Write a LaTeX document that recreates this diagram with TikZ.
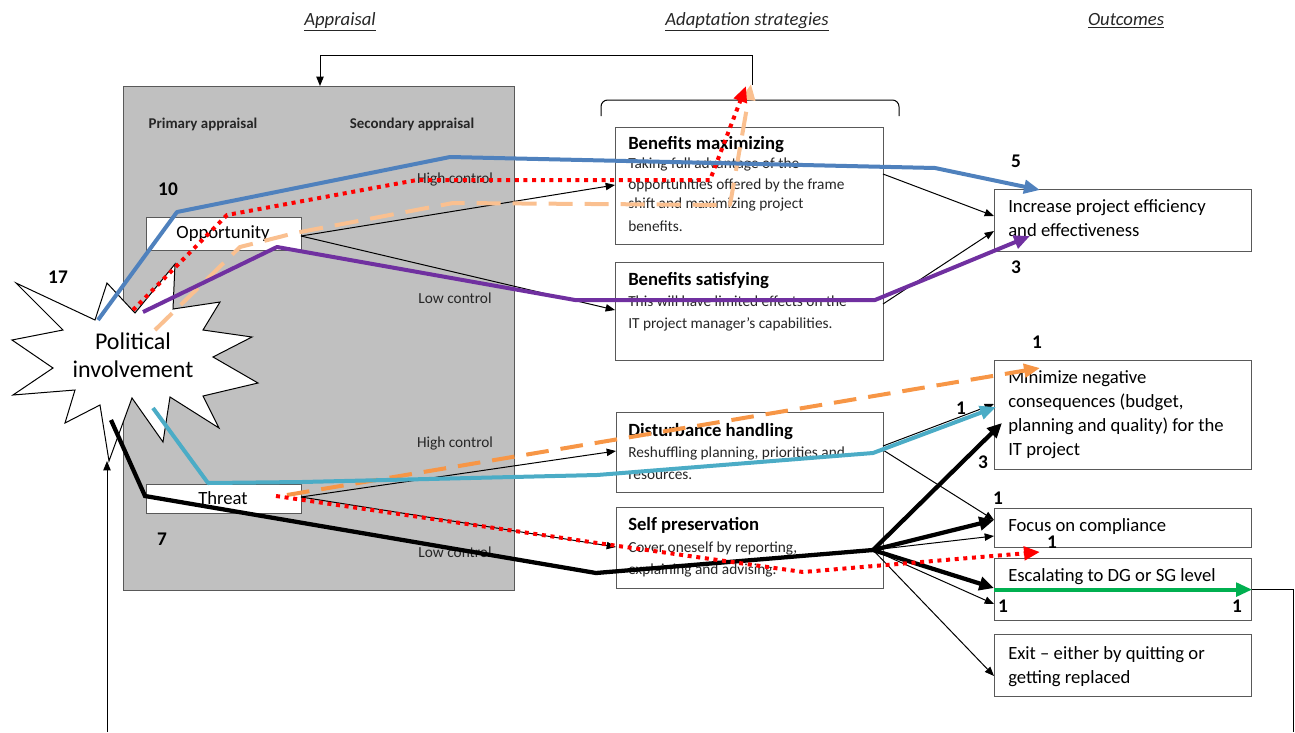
\documentclass[tikz,border=0pt]{standalone}
\usepackage{fontspec}
\setmainfont{Carlito}
\usetikzlibrary{arrows.meta}
\definecolor{cblue}{HTML}{4F81BD}
\definecolor{cred}{HTML}{FF0000}
\definecolor{cpeach}{HTML}{FAC090}
\definecolor{cpurple}{HTML}{7030A0}
\definecolor{ccyan}{HTML}{4BACC6}
\definecolor{corange}{HTML}{F79646}
\definecolor{cgreen}{HTML}{00B050}
\definecolor{cgray}{HTML}{C0C0C0}
\definecolor{cedge}{HTML}{595959}
\definecolor{ctext}{HTML}{262626}
\begin{document}
\begin{tikzpicture}[x=0.75pt,y=-0.75pt,
  box/.style={draw=cedge, line width=0.9pt, fill=white, rectangle, inner sep=0pt, anchor=north west},
  ttl/.style={anchor=base west, inner sep=0pt, font=\bfseries\fontsize{14}{16}\selectfont},
  bdy/.style={anchor=base west, inner sep=0pt, font=\fontsize{11.5}{13}\selectfont, text=ctext},
  otx/.style={anchor=base west, inner sep=0pt, font=\fontsize{14}{16}\selectfont},
  num/.style={inner sep=0pt, font=\bfseries\fontsize{14.5}{16}\selectfont},
  ctl/.style={anchor=base, inner sep=0pt, font=\fontsize{11.5}{13}\selectfont, text=ctext},
  hdg/.style={anchor=base, inner sep=0pt, font=\itshape\fontsize{14}{16}\selectfont, text=ctext},
  thinar/.style={draw=black, line width=0.75pt, -{Triangle[length=7pt,width=5.5pt]}},
  thinln/.style={draw=black, line width=0.75pt},
  thickar/.style={draw=black, line width=3.2pt, -{Triangle[length=11pt,width=10pt]}},
  colln/.style={line width=3pt, line join=round},
  coltip/.style={-{Triangle[length=12pt,width=10pt]}},
  dotr/.style={draw=cred, line width=3pt, dash pattern=on 3pt off 3.5pt},
]
\useasboundingbox (0,0) rectangle (1295,732);

% headings
\node[hdg] (hA) at (340,25) {\underline{Appraisal}};
\node[hdg] (hB) at (747,25) {\underline{Adaptation strategies}};
\node[hdg] (hC) at (1126,25) {\underline{Outcomes}};

% appraisal block
\node[box, fill=cgray, minimum width=293.25pt, minimum height=378pt] (app) at (123,86) {};
\node[ctl, font=\bfseries\fontsize{11.2}{13}\selectfont] (prim) at (203,128) {Primary appraisal};
\node[ctl, font=\bfseries\fontsize{11.2}{13}\selectfont] (sec) at (412,128) {Secondary appraisal};
\node[ctl] (hc1) at (455,183) {High control};
\node[ctl] (lc1) at (455,303) {Low control};
\node[ctl] (hc2) at (455,447) {High control};
\node[ctl] (lc2) at (455,557) {Low control};
\node[box, minimum width=116.25pt, minimum height=24.75pt] (opp) at (146,217) {};
\node[font=\fontsize{14}{16}\selectfont, inner sep=0pt] (oppt) at (223,234) {Opportunity};
\node[box, minimum width=116.25pt, minimum height=21.75pt] (thr) at (146,484) {};
\node[font=\fontsize{14}{16}\selectfont, inner sep=0pt] (thrt) at (223,498) {Threat};

% top feedback and bracket
\coordinate (tfb) at (752,85);
\coordinate (tfbC) at (752,55);
\coordinate (appTop) at (320,86);
\draw[thinar] (tfb) -- (tfbC) -| (appTop);
\coordinate (brL) at (601,116);
\coordinate (brR) at (899,116);
\draw[thinln, rounded corners=5pt] (brL) -- (601,100) -- (899,100) -- (brR);

% star
\filldraw[fill=white, draw=black, line width=0.75pt, line join=miter]
  (16,283) -- (95,320) -- (107,283) -- (135,313) -- (175,264) -- (173,309) --
  (220,302) -- (203,330) -- (252,337) -- (213,357) -- (258,383) -- (203,396) --
  (219,428) -- (170,397) -- (163,442) -- (132,398) -- (109,461) -- (100,405) --
  (65,423) -- (75,390) -- (13,395) -- (53,368) -- (12,340) -- (63,330) -- cycle;
\node[align=center, font=\fontsize{18}{21}\selectfont, inner sep=0pt] (pol) at (133,355) {Political\\involvement};

% strategy boxes
\node[box, minimum width=201pt, minimum height=87.75pt] (bmax) at (615,127) {};
\node[ttl] (bmaxT) at (628,149) {Benefits maximizing};
\node[bdy] (bmax1) at (628,168) {Taking full advantage  of the};
\node[bdy] (bmax2) at (628,189) {opportunities offered by the frame};
\node[bdy] (bmax3) at (628,208) {shift and maximizing project};
\node[bdy] (bmax4) at (628,231) {benefits.};

\node[box, minimum width=201pt, minimum height=73.5pt] (bsat) at (615,262) {};
\node[ttl] (bsatT) at (628,285) {Benefits satisfying};
\node[bdy] (bsat1) at (628,306) {This will have limited effects on the};
\node[bdy] (bsat2) at (628,328) {IT project manager's capabilities.};

\node[box, minimum width=200.25pt, minimum height=60pt] (dist) at (616,412) {};
\node[ttl] (distT) at (628,436) {Disturbance handling};
\node[bdy] (dist1) at (628,457) {Reshuffling planning, priorities and};
\node[bdy] (dist2) at (628,479) {resources.};

\node[box, minimum width=200.25pt, minimum height=60.75pt] (selfp) at (616,507) {};
\node[ttl] (selfT) at (628,530) {Self preservation};
\node[bdy] (self1) at (628,552) {Cover oneself by reporting,};
\node[bdy] (self2) at (628,574) {explaining and advising.};

% outcome boxes
\node[box, minimum width=192.75pt, minimum height=46.5pt] (incr) at (994,189) {};
\node[otx] (incr1) at (1008,212) {Increase project  efficiency};
\node[otx] (incr2) at (1008,236) {and effectiveness};
\node[box, minimum width=192.75pt, minimum height=81.75pt] (mini) at (994,360) {};
\node[otx] (mini1) at (1008,383) {Minimize negative};
\node[otx] (mini2) at (1008,407) {consequences (budget,};
\node[otx] (mini3) at (1008,431) {planning and quality) for the};
\node[otx] (mini4) at (1008,455) {IT project};
\node[box, minimum width=192.75pt, minimum height=29.25pt] (focus) at (994,508) {};
\node[otx] (focus1) at (1008,531) {Focus on  compliance};
\node[box, minimum width=192.75pt, minimum height=46.5pt] (esc) at (994,558) {};
\node[otx] (esc1) at (1008,581) {Escalating to DG or SG level};
\node[box, minimum width=192.75pt, minimum height=46.5pt] (exit) at (994,634) {};
\node[otx] (exit1) at (1008,659) {Exit -- either by quitting  or};
\node[otx] (exit2) at (1008,683) {getting replaced};

% thin connectors
\coordinate (oA) at (301,236);
\coordinate (bmaxL) at (615,185);
\coordinate (bsatL) at (615,310);
\coordinate (thA) at (301,497);
\coordinate (distL) at (616,451);
\coordinate (selfL) at (616,547);
\coordinate (bmaxR) at (883,174);
\coordinate (bsatR) at (883,304);
\coordinate (incrL1) at (994,216);
\coordinate (incrL2) at (994,231);
\coordinate (distR) at (883,450);
\coordinate (distR2) at (883,446);
\coordinate (focusL1) at (994,520);
\coordinate (miniL1) at (994,404);
\coordinate (fan) at (873,550);
\coordinate (miniL2) at (1002,423);
\coordinate (focusL2) at (994,536);
\coordinate (escL1) at (994,588);
\coordinate (escL2) at (994,604);
\coordinate (exitL) at (994,676);
\draw[thinar] (oA) -- (bmaxL);
\draw[thinar] (oA) -- (bsatL);
\draw[thinar] (thA) -- (distL);
\draw[thinar] (thA) -- (selfL);
\draw[thinar] (bmaxR) -- (incrL1);
\draw[thinar] (bsatR) -- (incrL2);
\draw[thinar] (distR) -- (focusL1);
\draw[thinar] (distR2) -- (miniL1);

% bottom feedback
\coordinate (fbR) at (1293,732);
\coordinate (fbL) at (107,732);
\coordinate (starB) at (107,461);
\draw[thinln] (esc.east) -| (fbR);
\draw[thinar] (fbL) -- (starB);

% black thick path and fan
\coordinate (bk0) at (111,420);
\coordinate (bk1) at (145,496);
\coordinate (bk2) at (596,573);
\draw[black, colln, line width=3.2pt, line join=miter] (bk0) -- (bk1) -- (bk2) -- (fan);
\draw[thickar] (fan) -- (miniL2);
\draw[thickar] (fan) -- (focusL1);
\draw[thinar] (fan) -- (focusL2);
\draw[thickar] (fan) -- (escL1);
\draw[thinar] (fan) -- (escL2);
\draw[thinar] (fan) -- (exitL);

% coloured routes
\coordinate (pe0) at (155,330);
\coordinate (pe1) at (240,247);
\coordinate (pe2) at (295,233);
\coordinate (pe3) at (453,203);
\coordinate (pe4) at (730,205);
\coordinate (pe5) at (751,84);
\draw[cpeach, colln, dash pattern=on 18pt off 9pt, coltip] (pe0) -- (pe1) -- (pe2) -- (pe3) -- (pe4) -- (pe5);

\coordinate (rt0) at (133,310);
\coordinate (rt1) at (227,215);
\coordinate (rt2) at (417,180);
\coordinate (rt3) at (710,180);
\coordinate (rt4) at (746,86);
\draw[dotr, line join=round, coltip] (rt0) -- (rt1) -- (rt2) -- (rt3) -- (rt4);

\coordinate (pu0) at (143,312);
\coordinate (pu1) at (277,247);
\coordinate (pu2) at (575,300);
\coordinate (pu3) at (875,300);
\coordinate (pu4) at (1030,236);
\draw[cpurple, colln, coltip] (pu0) -- (pu1) -- (pu2) -- (pu3) -- (pu4);

\coordinate (bl0) at (98,320);
\coordinate (bl1) at (177,212);
\coordinate (bl2) at (450,157);
\coordinate (bl3) at (935,168);
\coordinate (bl4) at (1040,190);
\draw[cblue, colln, coltip] (bl0) -- (bl1) -- (bl2) -- (bl3) -- (bl4);

\coordinate (or0) at (287,495);
\coordinate (or1) at (1040,368);
\draw[corange, colln, dash pattern=on 17pt off 9pt, coltip] (or0) -- (or1);

\coordinate (cy0) at (153,408);
\coordinate (cy1) at (208,483);
\coordinate (cy2) at (302,482);
\coordinate (cy3) at (597,475);
\coordinate (cy4) at (873,453);
\coordinate (cy5) at (996,407);
\draw[ccyan, colln, coltip] (cy0) -- (cy1) -- (cy2) -- (cy3) -- (cy4) -- (cy5);

\coordinate (rb0) at (276,496);
\coordinate (rb1) at (597,543);
\coordinate (rb2) at (803,572);
\coordinate (rb3) at (1040,552);
\draw[dotr, line join=round, coltip] (rb0) -- (rb1) -- (rb2) -- (rb3);

\draw[cgreen, colln, coltip] (esc.west) -- (esc.east);

% numbers
\node[num] (n10) at (168,189) {10};
\node[num] (n17) at (58,277) {17};
\node[num] (n7) at (162,539) {7};
\node[num] (n5) at (1016,161) {5};
\node[num] (n3a) at (1016,267) {3};
\node[num] (n1a) at (1037,342) {1};
\node[num] (n1b) at (961,408) {1};
\node[num] (n3b) at (983,462) {3};
\node[num] (n1c) at (998,498) {1};
\node[num] (n1d) at (1052,542) {1};
\node[num] (n1e) at (1003,606) {1};
\node[num] (n1f) at (1237,606) {1};
\end{tikzpicture}
\end{document}
